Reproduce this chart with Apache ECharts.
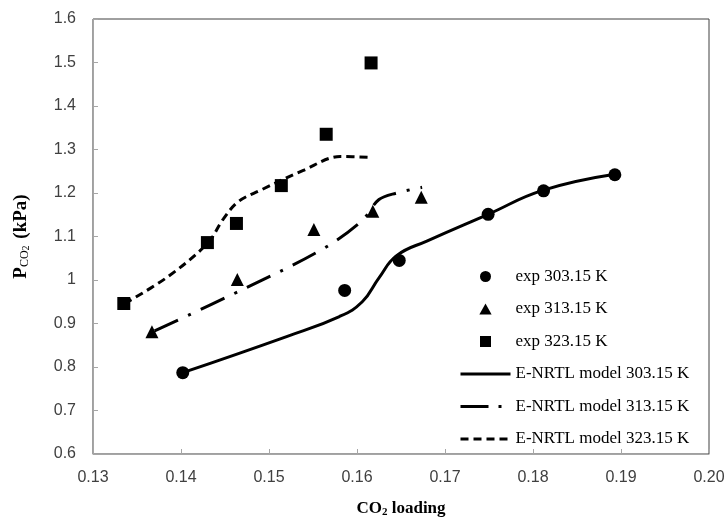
<!DOCTYPE html>
<html>
<head>
<meta charset="utf-8">
<script src="https://cdn.jsdelivr.net/npm/echarts@6/dist/echarts.min.js"></script>
<style>
  html, body { margin: 0; padding: 0; background: #fff; }
  #chart { width: 726px; height: 518px; }
</style>
</head>
<body>
<div id="chart"></div>
<script>
// measured points [CO2 loading, P_CO2 kPa]
var exp303 = [[0.1402, 0.787], [0.1586, 0.976], [0.1648, 1.045], [0.1749, 1.151], [0.1812, 1.205], [0.1893, 1.242]];
var exp313 = [[0.1367, 0.881], [0.1464, 1.001], [0.1551, 1.116], [0.1618, 1.158], [0.1673, 1.190]];
var exp323 = [[0.1335, 0.946], [0.1430, 1.086], [0.1463, 1.130], [0.1514, 1.217], [0.1565, 1.335], [0.1616, 1.499]];

// E-NRTL model curves
var model303 = [[0.1402, 0.787], [0.1520, 0.870], [0.1580, 0.916], [0.1606, 0.950], [0.1625, 1.005],
  [0.1645, 1.056], [0.1680, 1.090], [0.1749, 1.151], [0.1811, 1.206], [0.1893, 1.243]];
var model313 = [[0.1370, 0.883], [0.1475, 0.983], [0.1560, 1.070], [0.1605, 1.135], [0.1625, 1.185],
  [0.1645, 1.200], [0.1674, 1.213]];
var model323 = [[0.1336, 0.946], [0.1384, 1.006], [0.1430, 1.084], [0.1448, 1.140], [0.1465, 1.180],
  [0.1490, 1.206], [0.1539, 1.252], [0.1581, 1.284], [0.1615, 1.282]];

var xMin = 0.13, xMax = 0.20, xStep = 0.01;
var yMin = 0.6, yMax = 1.6, yStep = 0.1;

var myChart = echarts.init(document.getElementById('chart'));

var serif = '"Liberation Serif", "Times New Roman", serif';
var sans = '"Liberation Sans", Arial, sans-serif';

var dashDot = [26, 11, 3, 11];
var dashed = [8, 5];

function modelLine(name, data, type, smooth) {
  return {
    name: name,
    type: 'line',
    data: data,
    smooth: smooth,
    symbol: 'none',
    // hide the dot the legend draws for line series
    itemStyle: { color: '#000', opacity: 0 },
    lineStyle: { color: '#000', width: 3, type: type, opacity: 1 },
    z: 2
  };
}
function expPoints(name, data, symbol, size) {
  return {
    name: name,
    type: 'scatter',
    data: data,
    symbol: symbol,
    symbolSize: size,
    itemStyle: { color: '#000', opacity: 1 },
    z: 3
  };
}

var option = {
  backgroundColor: '#fff',
  animation: false,
  grid: {
    left: 93, right: 17, top: 19, bottom: 64,
    outerBoundsMode: 'none',
    show: true, borderColor: '#404040', borderWidth: 1, backgroundColor: 'transparent'
  },
  legend: {
    orient: 'vertical',
    left: 459,
    top: 268,
    padding: 0,
    itemWidth: 50,
    itemHeight: 11,
    itemGap: 15.5,
    lineStyle: { width: 3 },
    textStyle: { fontFamily: serif, fontSize: 17, color: '#000' },
    data: [
      { name: 'exp 303.15 K', icon: 'circle' },
      { name: 'exp 313.15 K', icon: 'path://M5,0L10,9L0,9Z' },
      { name: 'exp 323.15 K', icon: 'path://M0,0L10,0L10,10L0,10Z' },
      { name: 'E-NRTL model 303.15 K', lineStyle: { width: 3, color: '#000', type: 'solid' } },
      { name: 'E-NRTL model 313.15 K', lineStyle: { width: 3, color: '#000', type: [28, 10, 3, 10] } },
      { name: 'E-NRTL model 323.15 K', lineStyle: { width: 3, color: '#000', type: dashed } }
    ]
  },
  xAxis: {
    type: 'value',
    min: xMin, max: xMax, interval: xStep,
    name: '{t|CO}{s|2}{t| loading}',
    nameLocation: 'middle',
    nameGap: 46,
    nameTextStyle: {
      rich: {
        t: { fontFamily: serif, fontSize: 17, fontWeight: 'bold', color: '#000' },
        s: { fontFamily: serif, fontSize: 11, fontWeight: 'bold', color: '#000', padding: [7, 0, 0, 0] }
      }
    },
    axisLine: { lineStyle: { color: '#a6a6a6', width: 1 } },
    axisTick: { inside: true, length: 5, lineStyle: { color: '#a6a6a6' } },
    axisLabel: {
      margin: 16, fontFamily: sans, fontSize: 16, color: '#404040',
      formatter: function (v) { return v.toFixed(2); }
    },
    splitLine: { show: false }
  },
  yAxis: {
    type: 'value',
    min: yMin, max: yMax, interval: yStep,
    name: '{t|P}{s|CO}{s2|2}{t| (kPa)}',
    nameLocation: 'middle',
    nameRotate: 90,
    nameGap: 62,
    nameTextStyle: {
      rich: {
        t: { fontFamily: serif, fontSize: 19, fontWeight: 'bold', color: '#000' },
        s: { fontFamily: serif, fontSize: 12, color: '#000', padding: [7, 0, 0, 0] },
        s2: { fontFamily: serif, fontSize: 10, color: '#000', padding: [10, 2, 0, 0] }
      }
    },
    axisLine: { show: true, lineStyle: { color: '#a6a6a6', width: 1 } },
    axisTick: { show: true, inside: true, length: 5, lineStyle: { color: '#a6a6a6' } },
    axisLabel: {
      margin: 17, fontFamily: sans, fontSize: 16, color: '#404040',
      formatter: function (v) { return String(Math.round(v * 10) / 10); }
    },
    splitLine: { show: false }
  },
  series: [
    modelLine('E-NRTL model 303.15 K', model303, 'solid', 0.45),
    modelLine('E-NRTL model 313.15 K', model313, dashDot, 0.35),
    modelLine('E-NRTL model 323.15 K', model323, dashed, 0.35),
    expPoints('exp 303.15 K', exp303, 'circle', 13),
    expPoints('exp 313.15 K', exp313, 'triangle', 13),
    expPoints('exp 323.15 K', exp323, 'rect', 13)
  ]
};

myChart.setOption(option);
</script>
</body>
</html>
